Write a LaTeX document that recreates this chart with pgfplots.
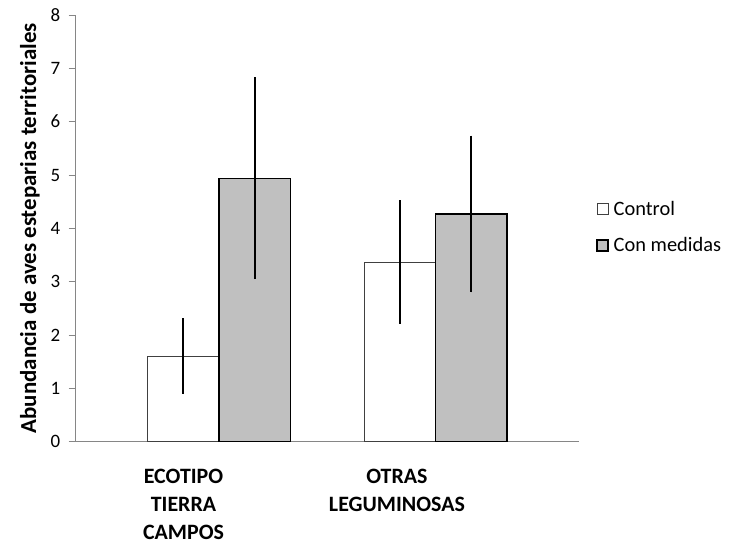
\documentclass[border=0pt]{standalone}
\usepackage{fontspec}
\setmainfont{Carlito}
\usepackage{pgfplots}
\pgfplotsset{compat=1.18}
\definecolor{axgray}{HTML}{868686}
\definecolor{bargray}{HTML}{C0C0C0}
\begin{document}
\begin{tikzpicture}
\useasboundingbox (-75.7bp,-105.3bp) rectangle (664.3bp,441.7bp);
\begin{axis}[
  at={(0,0)}, anchor=south west,
  scale only axis, width=503.3bp, height=426.7bp,
  xmin=-0.662, xmax=1.663, ymin=0, ymax=8,
  axis x line=bottom, axis y line=left,
  axis line style={axgray, line width=0.9bp, -},
  ytick={0,1,2,3,4,5,6,7,8},
  y tick style={axgray, line width=0.9bp},
  tick align=outside, major tick length=7bp,
  xtick={-0.164,0.822},
  xticklabels={{ECOTIPO\\TIERRA\\CAMPOS},{OTRAS\\LEGUMINOSAS}},
  x tick style={draw=none},
  tick label style={font=\fontsize{19}{21}\selectfont},
  x tick label style={align=center, font=\fontsize{22}{28}\selectfont\bfseries, inner sep=0pt, text depth=0pt, yshift=-20bp},
  yticklabel style={font=\fontsize{19}{21}\selectfont, xshift=-5bp},
  /pgf/number format/assume math mode=true,
  ylabel={Abundancia de aves esteparias territoriales},
  ylabel style={font=\fontsize{23}{26}\selectfont\bfseries, at={(axis description cs:-0.0908,0.5)}, anchor=center},
  ybar=0pt, bar width=0.33,
  legend style={at={(1.034,0.503)}, anchor=west, draw=none, fill=none, inner sep=0pt,
    row sep=17bp, font=\fontsize{20.5}{23}\selectfont, cells={anchor=west}},
]
\addplot[draw=black!75, fill=white, line width=0.9bp,
  legend image code/.code={\draw[draw=black!75, fill=white, line width=0.9bp] (0bp,-5.5bp) rectangle (11bp,5.5bp); \path (14bp,0bp);},
  error bars/.cd, y dir=both, y explicit, error mark=none,
  error bar style={black, line width=1.8bp}]
  coordinates {(0,1.60) +- (0,0.71) (1,3.37) +- (0,1.16)};
\addlegendentry{Control}
\addplot[draw=black, fill=bargray, line width=1.4bp,
  legend image code/.code={\draw[draw=black, fill=bargray, line width=1.4bp] (0bp,-5.5bp) rectangle (11bp,5.5bp); \path (14bp,0bp);},
  error bars/.cd, y dir=both, y explicit, error mark=none,
  error bar style={black, line width=1.8bp}]
  coordinates {(0,4.94) +- (0,1.89) (1,4.27) +- (0,1.47)};
\addlegendentry{Con medidas}
\end{axis}
\end{tikzpicture}
\end{document}
